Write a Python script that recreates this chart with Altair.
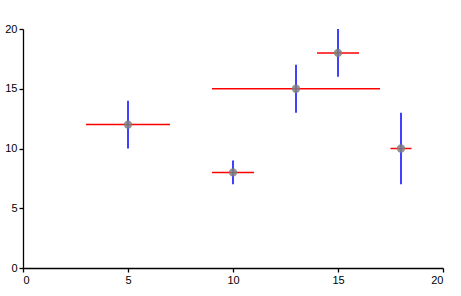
import altair as alt
import pandas as pd

xs = [5, 10, 13, 15, 18]
ys = [12, 8, 15, 18, 10]
x_err = [2, 1, 4, 1, 0.5]
y_err = [2, 1, 2, 2, 3]

df = pd.DataFrame({"x": xs, "y": ys, "xe": x_err, "ye": y_err})
df["x_lo"] = df["x"] - df["xe"]
df["x_hi"] = df["x"] + df["xe"]
df["y_lo"] = df["y"] - df["ye"]
df["y_hi"] = df["y"] + df["ye"]

xscale = alt.Scale(domain=[0, 20], nice=False, zero=False)
yscale = alt.Scale(domain=[0, 20], nice=False, zero=False)

axis_common = dict(
    grid=False, domainColor="#000000", tickColor="#000000", tickSize=4,
    labelFont="Liberation Sans", labelFontSize=11, labelColor="#000000",
    title=None, domainWidth=1.3, tickWidth=1.3, domainOpacity=1, tickOpacity=1,
)

base = alt.Chart(df)

xerr = base.mark_rule(color="#ff0000", strokeWidth=1.5).encode(
    x=alt.X("x_lo:Q", scale=xscale, axis=alt.Axis(values=[0, 5, 10, 15, 20], labelPadding=2, **axis_common)),
    x2="x_hi:Q",
    y=alt.Y("y:Q", scale=yscale, axis=alt.Axis(values=[0, 5, 10, 15, 20], labelPadding=2, **axis_common)),
)

yerr = base.mark_rule(color="#0000ff", strokeWidth=1.5).encode(
    x=alt.X("x:Q", scale=xscale),
    y=alt.Y("y_lo:Q", scale=yscale),
    y2="y_hi:Q",
)

pts = base.mark_circle(color="#808080", size=70, opacity=0.85).encode(
    x=alt.X("x:Q", scale=xscale),
    y=alt.Y("y:Q", scale=yscale),
)

chart = (xerr + yerr + pts).properties(
    width=420, height=239,
    autosize=alt.AutoSizeParams(type="none"),
    padding={"left": 23, "top": 29, "right": 18, "bottom": 28},
    background="white",
).configure_view(stroke=None)

chart.save("out.html", embed_options={"renderer": "svg", "actions": False})
